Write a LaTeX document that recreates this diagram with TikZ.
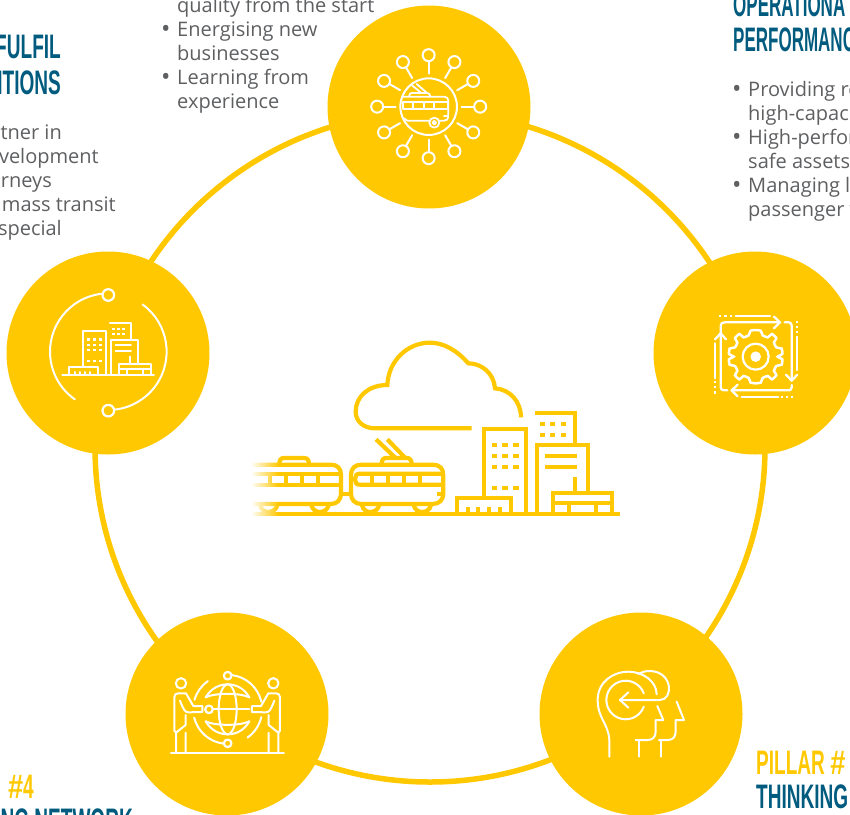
\documentclass[tikz,border=0pt]{standalone}
\usepackage{fontspec}
\setmainfont{Open Sans}
\newfontfamily\headfont[FakeStretch=0.56]{Liberation Sans Bold}
\newfontfamily\headnarrow[FakeStretch=0.5]{Liberation Sans Bold}
\newfontfamily\hashfont[FakeStretch=0.8]{Liberation Sans Bold}
\definecolor{gold}{HTML}{FFC800}
\definecolor{teal}{HTML}{005B7F}
\definecolor{bodygray}{HTML}{5E5F61}
\newcommand{\bul}{\makebox[12pt][l]{\hspace*{-4pt}\fontsize{25}{24}\selectfont\raisebox{-1pt}{•}}}
\tikzset{
  zm/.style 2 args={shift={(#1,#2)},x=0.3333pt,y=-0.3333pt},
  hub/.style={circle,fill=gold,minimum size=203pt,inner sep=0pt},
  ring/.style={circle,draw=gold,line width=5.5pt,minimum size=670pt,inner sep=0pt},
  bodytext/.style={inner sep=0pt,text=bodygray,font=\fontsize{20}{24}\selectfont},
  headtext/.style={inner sep=0pt,font=\headfont\fontsize{34}{35.5}\selectfont},
  ico/.style={draw=white,line width=#1,line cap=round,line join=round},
  ico/.default=2pt,
  scn/.style={draw=gold,line width=4.2pt,line join=miter},
}
\begin{document}
\begin{tikzpicture}[x=1pt,y=-1pt]
\useasboundingbox (0,0) rectangle (850,814);
\clip (0,0) rectangle (850,814);
\node[ring] (ringc) at (430,447) {};
\node[hub] (h1) at (429,107) {};
\node[hub] (h2) at (755,353) {};
\node[hub] (h3) at (641,714) {};
\node[hub] (h4) at (227,714) {};
\node[hub] (h5) at (108,353) {};

% ---- texts
\node[bodytext,anchor=north west,align=left] (t1) at (165,-3) {\hspace*{12pt}quality from the start\\\bul Energising new\\\hspace*{12pt}businesses\\\bul Learning from\\\hspace*{12pt}experience};
\node[bodytext,anchor=base east] (t2a) at (62,139) {rtner in};
\node[bodytext,anchor=base east] (t2b) at (99,163) {evelopment};
\node[bodytext,anchor=base east] (t2c) at (52,187) {urneys};
\node[bodytext,anchor=base east] (t2d) at (116,211) {mass transit};
\node[bodytext,anchor=base east] (t2e) at (62,235) {special};
\node[bodytext,anchor=north west,align=left] (t3) at (736,81) {\bul Providing re\\\hspace*{12pt}high-capac\\\bul High-perfor\\\hspace*{12pt}safe assets\\\bul Managing la\\\hspace*{12pt}passenger v};
\node[headtext,text=teal,anchor=north east,align=right] (t4) at (61,35) {FULFIL\\ITIONS};
\node[headtext,text=teal,anchor=base west,font=\headnarrow\fontsize{34}{35.5}\selectfont] (t5) at (733,16) {OPERATIONA};
\node[headtext,text=teal,anchor=base west,font=\headnarrow\fontsize{34}{35.5}\selectfont] (t6) at (733,51) {PERFORMANC};
\node[headtext,text=gold,anchor=base west] (t7) at (756,774) {PILLAR {\hashfont\#}};
\node[headtext,text=teal,anchor=base west] (t8) at (756,808) {THINKING};
\node[headtext,text=gold,anchor=base east] (t9) at (34,798) {{\hashfont\#}4};
\node[headtext,text=teal,anchor=base east] (t10) at (133,832) {ING NETWORK};

% ---- icon 1: top hub
\begin{scope}[zm={320}{0}]
  \draw[ico=2pt] (326,320) circle[radius=28.3pt];
  \foreach \a in {0,30,...,330}{
    \draw[ico=2pt] (326,320) ++(\a:33pt) -- ++(\a:12pt);
    \draw[ico=2pt] (326,320) ++(\a:51.5pt) circle[radius=6pt];
  }
  \draw[ico=1.8pt,line cap=butt] (248,290) -- (372,290) .. controls (380,290) and (385,295) .. (385,302) -- (385,345);
  \draw[ico=1.8pt,line cap=butt] (250,305) rectangle (385,328);
  \draw[ico=1.8pt,line cap=butt] (279,305) -- (279,328) (311,305) -- (311,328) (342,305) -- (342,328);
  \draw[ico=1.8pt] (252,355) -- (262,362) -- (328,362);
  \draw[ico=1.8pt] (358,362) -- (372,362) .. controls (380,362) and (385,358) .. (385,350);
  \draw[ico=1.8pt] (372,347) -- (385,347);
  \draw[ico=1.8pt] (343,368) circle[radius=5pt];
  \draw[ico=1.8pt] (343,368) circle[radius=1.8pt];
  \draw[ico=1.8pt] (268,288) .. controls (268,282) and (270,279) .. (276,279) -- (322,279) .. controls (327,279) and (330,283) .. (330,288);
  \draw[ico=1.8pt] (276,256) -- (303,278) (290,252) -- (320,278);
\end{scope}

% ---- central scene
\begin{scope}[zm={240}{330}]
  \draw[scn] (843,262) .. controls (843,215) and (810,178) .. (765,175)
    .. controls (762,130) and (725,100) .. (685,100)
    .. controls (650,60) and (610,38) .. (570,38)
    .. controls (500,38) and (445,95) .. (442,165)
    .. controls (385,165) and (347,200) .. (347,245)
    .. controls (347,275) and (372,295) .. (405,295) -- (695,295);
  \draw[scn] (35,553) -- (1140,553);
  % left tram
  \draw[scn] (35,404) -- (272,404) .. controls (292,404) and (303,415) .. (303,435) -- (303,488) .. controls (303,510) and (292,522) .. (272,522) -- (35,522);
  \draw[scn] (35,431) -- (303,431) (35,464) -- (303,464);
  \foreach \x in {90,138,186,234} \draw[scn] (\x,431) -- (\x,464);
  \draw[scn] (118,403) .. controls (118,390) and (122,384) .. (132,384) -- (192,384) .. controls (202,384) and (207,390) .. (207,403);
  \draw[scn] (60,525) .. controls (65,553) and (105,553) .. (112,525);
  \draw[scn] (214,525) .. controls (220,553) and (260,553) .. (266,525);
  % coupling
  \draw[scn] (303,492) -- (333,492);
  % right tram
  \draw[scn] (365,404) -- (578,404) .. controls (598,404) and (610,415) .. (610,435) -- (610,490) .. controls (610,510) and (598,522) .. (578,522) -- (365,522) .. controls (345,522) and (333,510) .. (333,490) -- (333,435) .. controls (333,415) and (345,404) .. (365,404);
  \draw[scn] (610,431) -- (360,431) .. controls (350,431) and (346,436) .. (346,444) -- (346,452) .. controls (346,460) and (350,464) .. (360,464) -- (610,464);
  \foreach \x in {397,445,493,541} \draw[scn] (\x,431) -- (\x,464);
  \draw[scn] (590,491) -- (610,491);
  \draw[scn] (425,403) .. controls (425,390) and (429,384) .. (439,384) -- (500,384) .. controls (510,384) and (515,390) .. (515,403);
  \draw[scn] (408,328) -- (468,385) (442,328) -- (497,385);
  \draw[scn] (366,525) .. controls (371,553) and (411,553) .. (418,525);
  \draw[scn] (521,525) .. controls (527,553) and (567,553) .. (573,525);
  % buildings
  \draw[scn] (733,505) -- (733,296) -- (859,296) -- (859,553);
  \draw[scn] (650,553) -- (650,505) -- (812,505) -- (812,553);
  \foreach \x in {683,715,748,780} \draw[scn] (\x,531) -- (\x,553);
  \foreach \y in {346,378,410,473} \foreach \x in {763,795,828}
    \fill[gold] (\x-8,\y-6) rectangle (\x+8,\y+6);
  \draw[scn] (885,250) -- (1005,250) -- (1005,345);
  \foreach \y in {282,315} \foreach \x in {907,938,970}
    \fill[gold] (\x-8,\y-6) rectangle (\x+8,\y+6);
  \draw[scn] (892,553) -- (892,345) -- (1045,345) -- (1045,488);
  \draw[scn] (915,378) -- (1012,378) (915,410) -- (1012,410);
  \draw[scn] (1005,442) -- (1005,488);
  \draw[scn] (940,553) -- (940,490) -- (1116,490) -- (1116,553);
  \draw[scn] (945,520) -- (1116,520);
  \draw[scn] (988,520) -- (988,553) (1069,520) -- (1069,553);
  % left fade of the tram
  \fill[white] (20,370) rectangle (34,570);
  \foreach \i in {0,...,15} {
    \pgfmathsetmacro{\xa}{34+5*\i}
    \pgfmathsetmacro{\xb}{39+5*\i}
    \pgfmathsetmacro{\op}{0.97-0.06*\i}
    \fill[white,fill opacity=\op] (\xa,370) rectangle (\xb,570);
  }
\end{scope}

% ---- icon 5: left hub (city)
\begin{scope}[zm={30}{280}]
  \draw[ico] (235,215) ++(97:58.3pt) arc[start angle=97,end angle=235,radius=58.3pt];
  \draw[ico] (235,215) ++(54:58.3pt) arc[start angle=54,end angle=-83,radius=58.3pt];
  \draw[ico=2.2pt,fill=gold] (235,45) circle[radius=5.8pt];
  \draw[ico=2.2pt,fill=gold] (235,392) circle[radius=5.8pt];
  \begin{scope}[line cap=butt]
  \draw[ico] (97,285) -- (372,285);
  \draw[ico] (158,258) -- (158,153) -- (228,153) -- (228,285);
  \draw[ico] (117,285) -- (117,260) -- (205,260) -- (205,285);
  \foreach \x in {135,150,165,180} \draw[ico] (\x,276) -- (\x,285);
  \foreach \y in {178,195,211,243} \foreach \x in {175,193,211}
    \fill[white] (\x-4,\y-3.5) rectangle (\x+4,\y+3.5);
  \draw[ico] (240,128) -- (302,128) -- (302,178);
  \foreach \y in {147,162} \foreach \x in {251,266,281}
    \fill[white] (\x-4,\y-3) rectangle (\x+4,\y+3);
  \draw[ico] (243,285) -- (243,180) -- (325,180) -- (325,250);
  \draw[ico] (257,195) -- (303,195) (257,212) -- (303,212);
  \draw[ico] (300,230) -- (300,250);
  \draw[ico] (268,285) -- (268,252) -- (362,252) -- (362,285);
  \draw[ico] (268,266) -- (362,266);
  \draw[ico] (290,266) -- (290,285) (340,266) -- (340,285);
  \end{scope}
\end{scope}

% ---- icon 2: right hub (gear)
\begin{scope}[zm={690}{300}]
  \draw[ico=2.5pt,line join=miter] plot[smooth cycle,tension=0.25] coordinates {
    (197,90)(212,92)(218,106)(233,112)(246,102)(259,114)(252,128)(259,142)(275,146)(277,162)
    (263,170)(277,178)(275,194)(259,198)(252,212)(259,226)(246,238)(233,228)(218,234)(212,248)(197,250)
    (182,248)(176,234)(161,228)(148,238)(135,226)(142,212)(135,198)(119,194)(117,178)(131,170)
    (117,162)(119,146)(135,142)(142,128)(135,114)(148,102)(161,112)(176,106)(182,92)};
  \draw[ico=2.2pt] (197,170) circle[radius=13pt];
  \fill[white] (197,170) circle[radius=5.3pt];
  \draw[ico=2.3pt] (92,100) -- (92,78) .. controls (92,70) and (96,67) .. (104,67) -- (270,67);
  \draw[ico=2.3pt] (252,50) -- (270,67) -- (252,85);
  \draw[ico=2.3pt] (284,67) -- (296,67) .. controls (302,67) and (305,71) .. (305,77) -- (305,242);
  \draw[ico=2.3pt] (288,224) -- (305,242) -- (322,224);
  \draw[ico=2.3pt] (305,255) -- (305,262) .. controls (305,268) and (302,271) .. (296,271) -- (125,271);
  \draw[ico=2.3pt] (143,254) -- (125,271) -- (143,289);
  \draw[ico=2.3pt] (112,271) -- (102,271) .. controls (96,271) and (92,268) .. (92,262) -- (92,100);
  \draw[ico=2.3pt] (75,118) -- (92,100) -- (108,118);
  \draw[ico=2.3pt] (137,48) -- (240,48) (320,110) -- (320,210) (155,292) -- (265,292) (75,130) -- (75,235);
  \foreach \x in {90,106,122} \fill[white] (\x-3.5,44.5) rectangle (\x+3.5,51.5);
  \foreach \y in {65,80,95} \fill[white] (316.5,\y-3.5) rectangle (323.5,\y+3.5);
  \foreach \x in {275,290,305} \fill[white] (\x-3.5,288.5) rectangle (\x+3.5,295.5);
  \foreach \y in {246,262,278} \fill[white] (71.5,\y-3.5) rectangle (78.5,\y+3.5);
\end{scope}

% ---- icon 4: bottom-left hub (globe)
\begin{scope}[zm={160}{660}]
  \coordinate (gc) at (203,148);
  \draw[ico] (gc) ++(83:34.5pt) arc[start angle=83,end angle=13,radius=34.5pt];
  \draw[ico] (gc) ++(125:34.5pt) arc[start angle=125,end angle=164,radius=34.5pt];
  \draw[ico] (gc) ++(194:34.5pt) arc[start angle=194,end angle=263,radius=34.5pt];
  \draw[ico] (gc) ++(-55:34.5pt) arc[start angle=-55,end angle=-13,radius=34.5pt];
  \draw[ico] (137,112) .. controls (153,85) and (178,73) .. (203,73) .. controls (228,73) and (253,85) .. (268,112);
  \draw[ico] (137,184) .. controls (153,211) and (178,223) .. (203,223) .. controls (228,223) and (253,211) .. (268,184);
  \draw[ico] (137,112) .. controls (165,98) and (240,98) .. (268,112);
  \draw[ico] (137,184) .. controls (165,198) and (240,198) .. (268,184);
  \draw[ico] (203,148) circle[x radius=9pt,y radius=25pt];
  \draw[ico] (158,148) -- (268,148);
  \draw[ico=2.2pt,fill=gold] (147,148) circle[radius=3.8pt];
  \draw[ico=2.2pt,fill=gold] (203,47) circle[radius=3.8pt];
  \draw[ico=2.2pt,fill=gold] (203,250) circle[radius=3.8pt];
  \draw[ico] (33,278) -- (372,278);
  \draw[ico] (63,70) circle[radius=5.2pt];
  \draw[ico] (340,70) circle[radius=5.2pt];
  \draw[ico] (48,278) -- (48,218) -- (43,212) -- (43,112) .. controls (43,104) and (48,100) .. (54,100) -- (78,100) -- (100,138) -- (127,138) -- (127,156) -- (85,157) .. controls (75,157) and (70,148) .. (60,122);
  \draw[ico] (77,195) -- (48,218) (77,218) -- (77,278) (77,195) -- (77,165);
  \draw[ico] (355,278) -- (355,218) -- (360,212) -- (360,112) .. controls (360,104) and (355,100) .. (349,100) -- (325,100) -- (303,138) -- (276,138) -- (276,156) -- (318,157) .. controls (328,157) and (333,148) .. (343,122);
  \draw[ico] (326,195) -- (355,218) (326,218) -- (326,278) (326,195) -- (326,165);
\end{scope}

% ---- icon 3: bottom-right hub (heads)
\begin{scope}[zm={585}{660}]
  \draw[ico] (73,290) -- (73,240) .. controls (70,190) and (38,175) .. (38,120) .. controls (38,65) and (85,35) .. (130,35) .. controls (175,35) and (215,65) .. (215,103);
  \draw[ico] (122,120) ++(20:19.3pt) arc[start angle=20,end angle=340,radius=19.3pt];
  \draw[ico] (105,120) -- (225,120) .. controls (265,120) and (265,35) .. (195,33) .. controls (180,33) and (170,36) .. (160,42);
  \draw[ico] (130,97) -- (105,120) -- (130,143);
  \draw[ico] (217,138) -- (235,180) -- (212,180) -- (212,215) .. controls (212,232) and (202,240) .. (188,240) -- (152,240);
  \draw[ico] (162,240) -- (162,290);
  \draw[ico] (275,125) -- (297,180) -- (272,180) -- (272,215) .. controls (272,232) and (262,240) .. (248,240) -- (222,240);
  \draw[ico] (228,240) -- (228,290);
\end{scope}
\end{tikzpicture}
\end{document}
